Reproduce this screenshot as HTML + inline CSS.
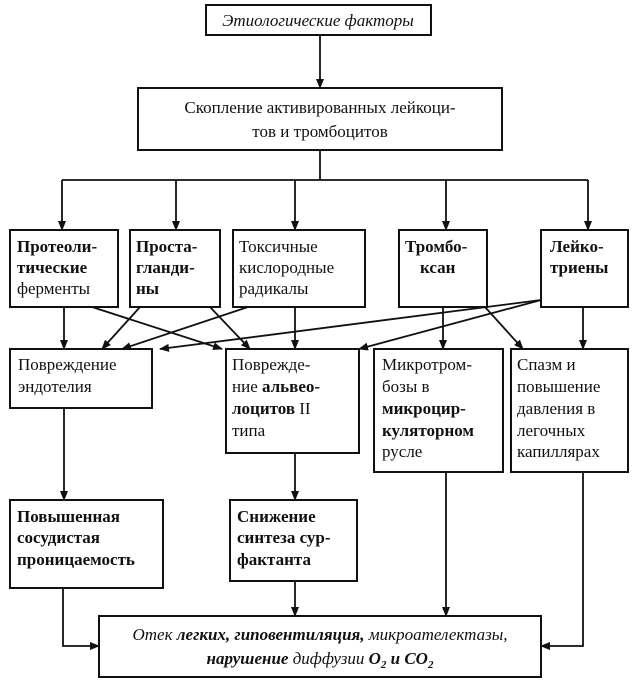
<!DOCTYPE html>
<html><head><meta charset="utf-8"><style>
body{margin:0;background:#fff}
svg text{font-family:"Liberation Serif",serif;font-size:17px;fill:#111}
.b{font-weight:bold}
</style></head><body>
<svg width="634" height="684" viewBox="0 0 634 684" xmlns="http://www.w3.org/2000/svg">
<defs><marker id="a" markerWidth="10" markerHeight="10" refX="9" refY="5" orient="auto" markerUnits="userSpaceOnUse"><path d="M0,1 L10,5 L0,9 z" fill="#111"/></marker></defs>
<g fill="none" stroke="#111" stroke-width="2">
<rect x="206" y="5" width="225" height="30"/>
<rect x="138" y="88" width="364" height="62"/>
<rect x="10" y="230" width="108" height="77"/>
<rect x="130" y="230" width="90" height="77"/>
<rect x="233" y="230" width="132" height="77"/>
<rect x="399" y="230" width="88" height="77"/>
<rect x="541" y="230" width="87" height="77"/>
<rect x="10" y="349" width="142" height="59"/>
<rect x="226" y="349" width="133" height="104"/>
<rect x="374" y="349" width="129" height="123"/>
<rect x="511" y="349" width="117" height="123"/>
<rect x="10" y="500" width="153" height="88"/>
<rect x="230" y="500" width="127" height="81"/>
<rect x="99" y="616" width="442" height="61"/>
</g>
<g fill="none" stroke="#111" stroke-width="1.8">
<line x1="320" y1="150" x2="320" y2="180"/>
<line x1="62" y1="180" x2="588" y2="180"/>
</g>
<g fill="none" stroke="#111" stroke-width="1.8" marker-end="url(#a)">
<line x1="320" y1="35" x2="320" y2="88"/>
<line x1="62" y1="180" x2="62" y2="230"/>
<line x1="176" y1="180" x2="176" y2="230"/>
<line x1="295" y1="180" x2="295" y2="230"/>
<line x1="446" y1="180" x2="446" y2="230"/>
<line x1="588" y1="180" x2="588" y2="230"/>
<line x1="64" y1="307" x2="64" y2="349"/>
<line x1="92" y1="307" x2="222" y2="349"/>
<line x1="140" y1="307" x2="102" y2="349"/>
<line x1="210" y1="307" x2="250" y2="349"/>
<line x1="248" y1="307" x2="122" y2="349"/>
<line x1="295" y1="307" x2="295" y2="349"/>
<line x1="443" y1="307" x2="443" y2="349"/>
<line x1="485" y1="307" x2="523" y2="349"/>
<line x1="541" y1="300" x2="160" y2="349"/>
<line x1="541" y1="300" x2="359" y2="349"/>
<line x1="583" y1="307" x2="583" y2="349"/>
<line x1="64" y1="408" x2="64" y2="500"/>
<line x1="295" y1="453" x2="295" y2="500"/>
<line x1="446" y1="472" x2="446" y2="616"/>
<line x1="295" y1="581" x2="295" y2="616"/>
<polyline points="583,472 583,646 541,646"/>
<polyline points="63,588 63,646 99,646"/>
</g>
<text x="318" y="26" text-anchor="middle" font-style="italic">Этиологические факторы</text>
<text x="320" y="113" text-anchor="middle">Скопление активированных лейкоци-</text>
<text x="320" y="137" text-anchor="middle">тов и тромбоцитов</text>
<text x="17" y="252" class="b">Протеоли-</text><text x="17" y="273" class="b">тические</text><text x="17" y="294">ферменты</text>
<text x="136" y="252" class="b">Проста-</text><text x="136" y="273" class="b">гланди-</text><text x="136" y="294" class="b">ны</text>
<text x="239" y="252">Токсичные</text><text x="239" y="273">кислородные</text><text x="239" y="294">радикалы</text>
<text x="405" y="252" class="b">Тромбо-</text><text x="420" y="273" class="b">ксан</text>
<text x="550" y="252" class="b">Лейко-</text><text x="550" y="273" class="b">триены</text>
<text x="18" y="370">Повреждение</text><text x="18" y="392">эндотелия</text>
<text x="232" y="370">Поврежде-</text><text x="232" y="392">ние <tspan class="b">альвео-</tspan></text><text x="232" y="414"><tspan class="b">лоцитов</tspan> II</text><text x="232" y="436">типа</text>
<text x="382" y="370">Микротром-</text><text x="382" y="392">бозы в</text><text x="382" y="414" class="b">микроцир-</text><text x="382" y="436" class="b">куляторном</text><text x="382" y="457">русле</text>
<text x="517" y="370">Спазм и</text><text x="517" y="392">повышение</text><text x="517" y="414">давления в</text><text x="517" y="436">легочных</text><text x="517" y="457">капиллярах</text>
<text x="17" y="522" class="b">Повышенная</text><text x="17" y="543" class="b">сосудистая</text><text x="17" y="565" class="b">проницаемость</text>
<text x="237" y="522" class="b">Снижение</text><text x="237" y="543" class="b">синтеза сур-</text><text x="237" y="565" class="b">фактанта</text>
<text x="320" y="640" text-anchor="middle" font-style="italic" font-size="16">Отек <tspan class="b">легких, гиповентиляция,</tspan> микроателектазы,</text>
<text x="320" y="664" text-anchor="middle" font-style="italic" font-size="16"><tspan class="b">нарушение</tspan> диффузии <tspan class="b">O<tspan font-size="11" dy="4">2</tspan><tspan dy="-4"> и CO</tspan><tspan font-size="11" dy="4">2</tspan></tspan></text>
</svg>
</body></html>
